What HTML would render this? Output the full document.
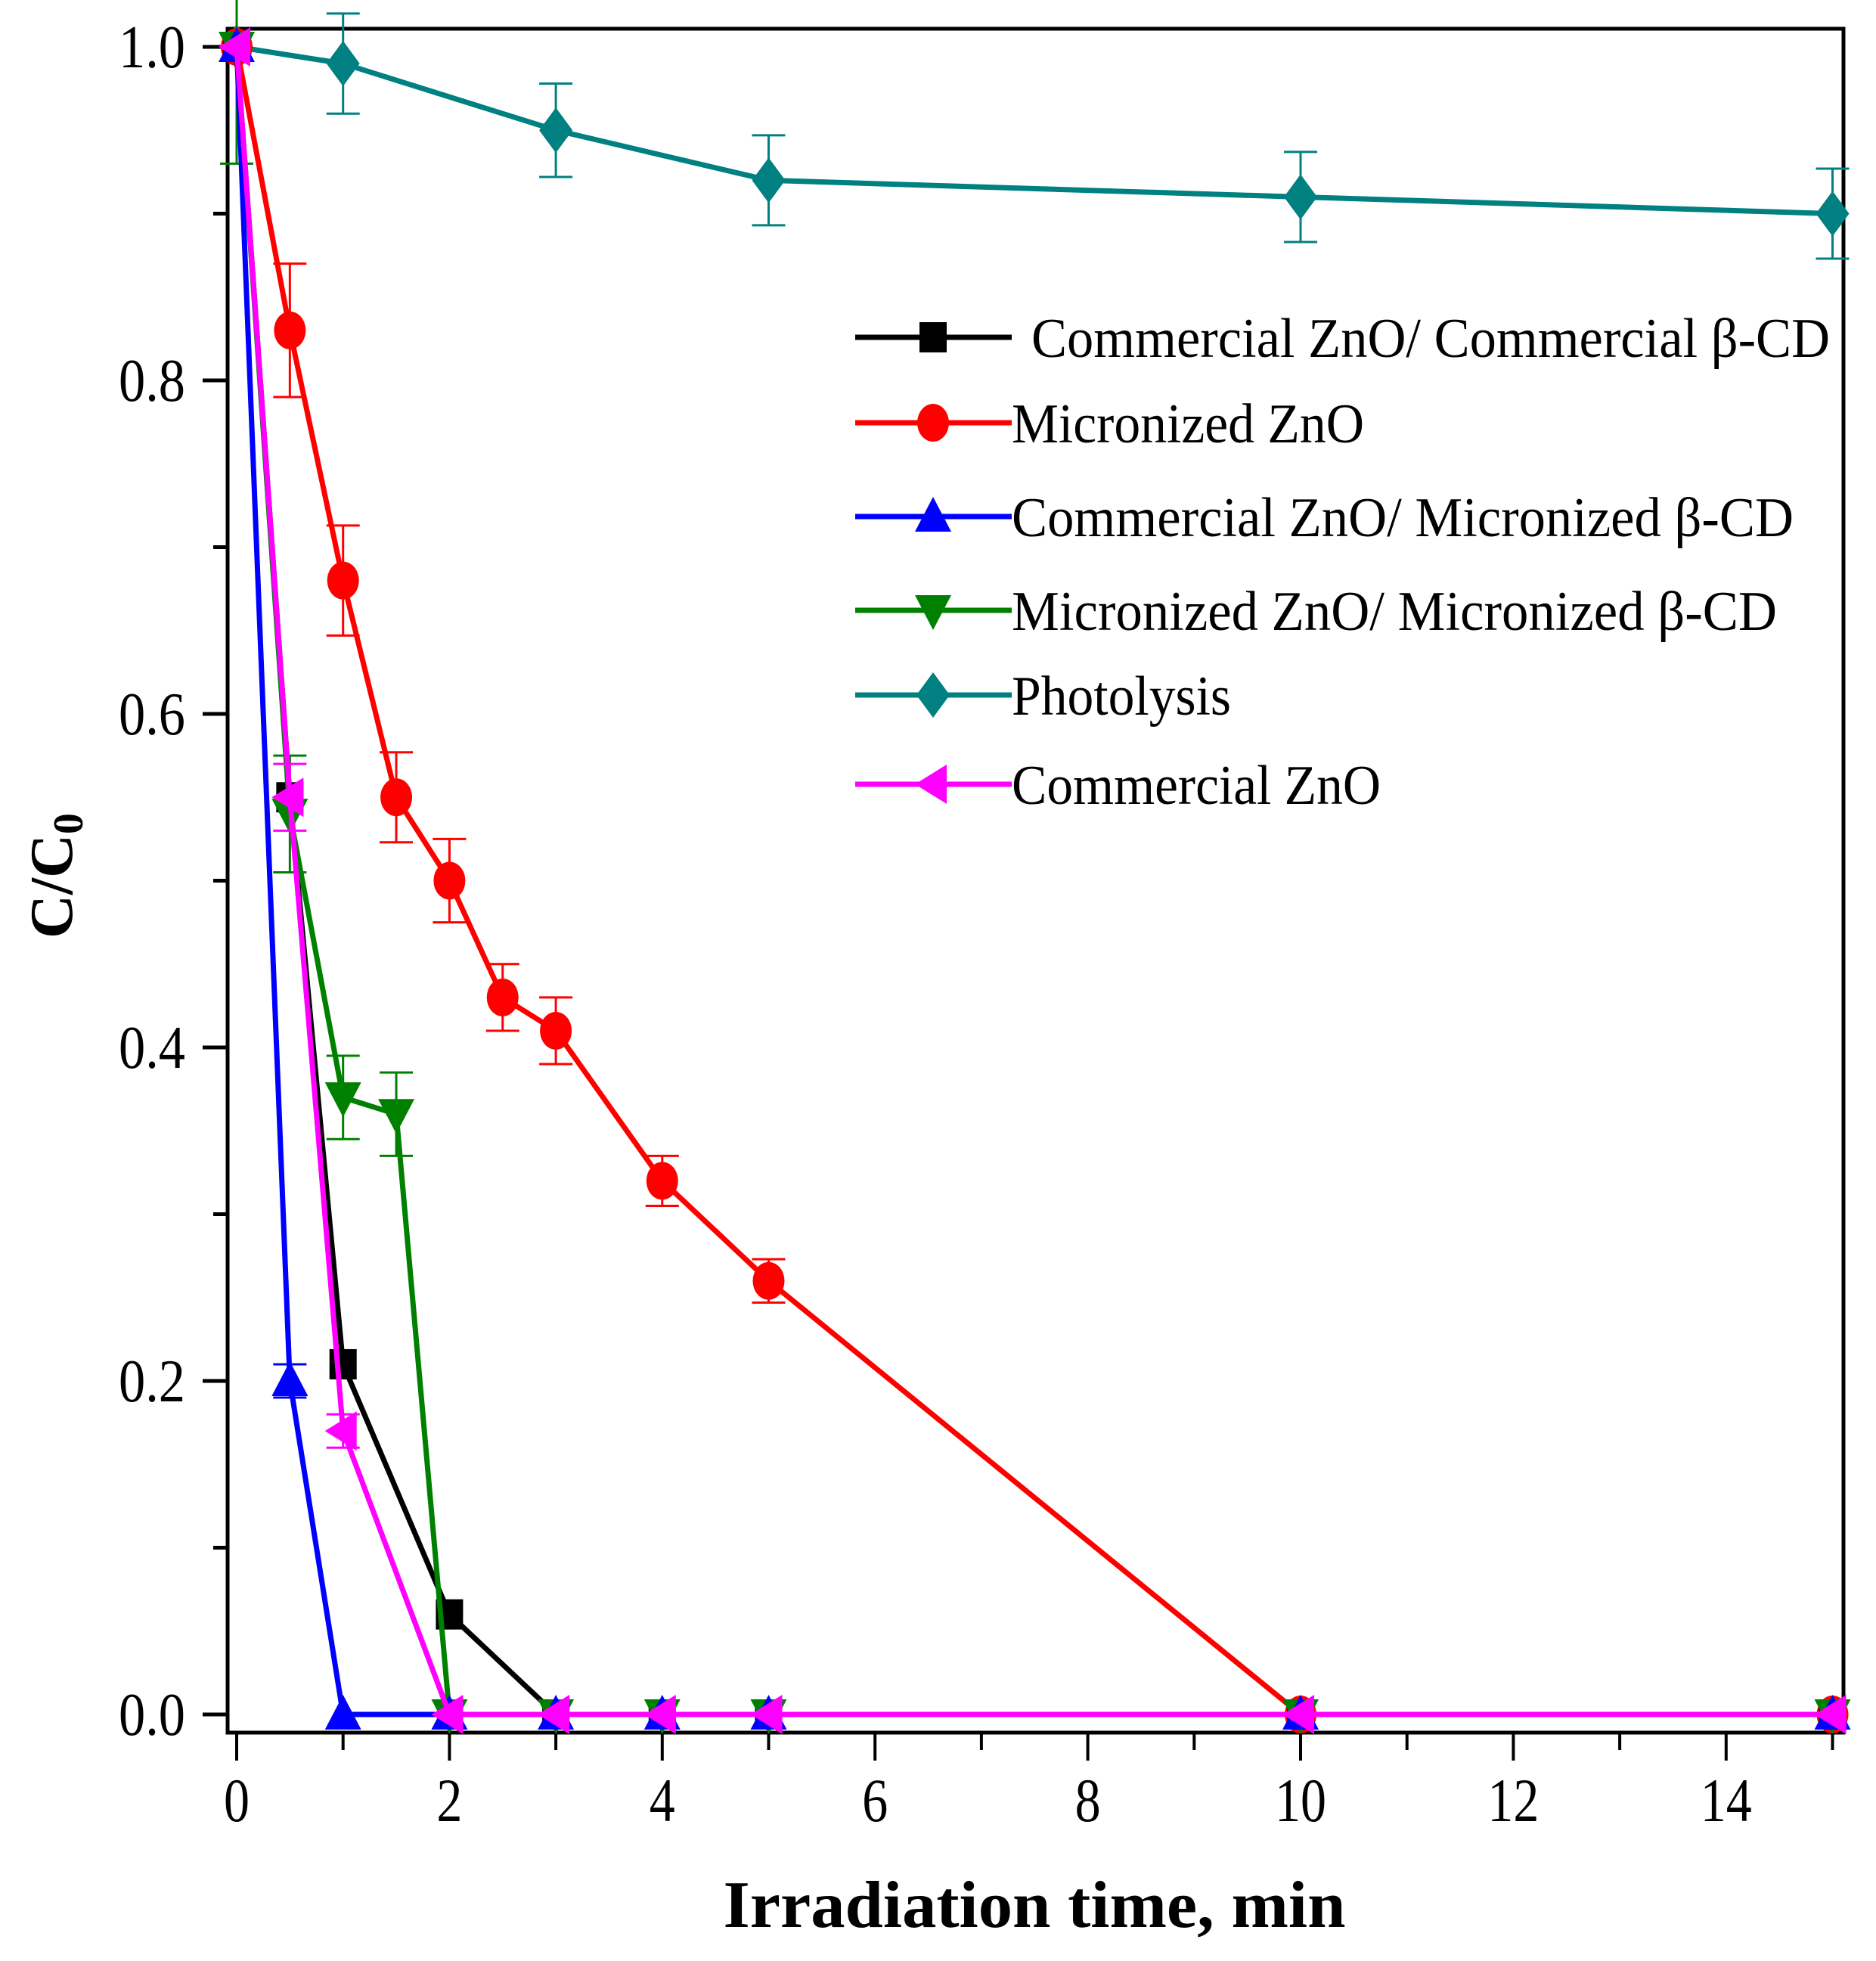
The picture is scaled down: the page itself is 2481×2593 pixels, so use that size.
<!DOCTYPE html>
<html><head><meta charset="utf-8"><style>
html,body{margin:0;padding:0;background:#fff}
svg{display:block}
text{font-family:"Liberation Serif",serif}
</style></head><body>
<svg id="chart" width="2481" height="2593" viewBox="0 0 2481 2593" xmlns="http://www.w3.org/2000/svg">
</svg>
<script>
const xTicks=[0,2,4,6,8,10,12,14];
const yTicks=[0.0,0.2,0.4,0.6,0.8,1.0];
const yTickLabels=["0.0","0.2","0.4","0.6","0.8","1.0"];
const names=["Commercial ZnO/ Commercial β-CD","Micronized ZnO","Commercial ZnO/ Micronized β-CD","Micronized ZnO/ Micronized β-CD","Photolysis","Commercial ZnO"];
const colors=["#000000","#ff0000","#0000ff","#008000","#008080","#ff00ff"];
const markers=["square","circle","up","down","diamond","left"];
const xBlack=[0,0.5,1,2,3,4,5,10,15];
const yBlack=[1,0.55,0.21,0.06,0,0,0,0,0];
const xRed=[0,0.5,1,1.5,2,2.5,3,4,5,10,15];
const yRed=[1,0.83,0.68,0.55,0.5,0.43,0.41,0.32,0.26,0,0];
const eRed=[0,0.04,0.033,0.027,0.025,0.02,0.02,0.015,0.013,0,0];
const xBlue=[0,0.5,1,2,3,4,5,10,15];
const yBlue=[1,0.2,0,0,0,0,0,0,0];
const eBlue=[0,0.01,0,0,0,0,0,0,0];
const xGreen=[0,0.5,1,1.5,2,3,4,5,10,15];
const yGreen=[1,0.54,0.37,0.36,0,0,0,0,0,0];
const eGreen=[0.07,0.035,0.025,0.025,0,0,0,0,0,0];
const xTeal=[0,1,3,5,10,15];
const yTeal=[1,0.99,0.95,0.92,0.91,0.9];
const eTeal=[0,0.03,0.028,0.027,0.027,0.027];
const xMag=[0,0.5,1,2,3,4,5,10,15];
const yMag=[1,0.55,0.17,0,0,0,0,0,0];
const eMag=[0,0.02,0.01,0,0,0,0,0,0];

const NS="http://www.w3.org/2000/svg";
const svg=document.getElementById('chart');
const X=v=>313+v*140.7;
const Y=v=>2267-v*2205;
function mk(tag,attrs,parent){const e=document.createElementNS(NS,tag);for(const k in attrs)e.setAttribute(k,attrs[k]);(parent||svg).appendChild(e);return e;}

const frame=mk('rect',{x:301,y:38,width:2137,height:2253,fill:'none',stroke:'#000','stroke-width':5});



for(let v=0;v<=1.001;v+=0.1){
  const major=Math.round(v*10)%2===0;
  const t=mk('line',{x1:major?268:282,x2:301,y1:Y(v),y2:Y(v),stroke:'#000','stroke-width':5});
  
  
}
yTicks.forEach((v,i)=>{
  const t=mk('text',{x:245,y:Y(v)+27,'text-anchor':'end','font-size':80,textLength:88,lengthAdjust:'spacingAndGlyphs'});
  t.textContent=yTickLabels[i];
  
  
});
for(let v=0;v<=15;v++){
  const major=v%2===0;
  const t=mk('line',{x1:X(v),x2:X(v),y1:2291,y2:major?2328:2314,stroke:'#000','stroke-width':4});
  
  
}
xTicks.forEach(v=>{
  const s=String(v);
  const t=mk('text',{x:X(v),y:2408,'text-anchor':'middle','font-size':82,textLength:s.length*34,lengthAdjust:'spacingAndGlyphs'});
  t.textContent=s;
  
  
});
const xt=mk('text',{x:1368,y:2548,'text-anchor':'middle','font-size':88,'font-weight':'bold',textLength:823,lengthAdjust:'spacingAndGlyphs'});
xt.textContent='Irradiation time, min';


const yt=mk('text',{x:0,y:0,'text-anchor':'middle','font-size':80,'font-weight':'bold',transform:'translate(95,1158) rotate(-90)'});
yt.innerHTML='C/C<tspan font-size="56" dy="14">0</tspan>';



function marker(type,cx,cy,color,parent){
  let e;
  if(type==='square')e=mk('rect',{x:cx-18,y:cy-20,width:36,height:40,fill:color},parent);
  else if(type==='circle')e=mk('ellipse',{cx:cx,cy:cy,rx:21,ry:25,fill:color},parent);
  else if(type==='up')e=mk('polygon',{points:`${cx},${cy-26} ${cx+24},${cy+20} ${cx-24},${cy+20}`,fill:color},parent);
  else if(type==='down')e=mk('polygon',{points:`${cx},${cy+26} ${cx+24},${cy-20} ${cx-24},${cy-20}`,fill:color},parent);
  else if(type==='diamond')e=mk('polygon',{points:`${cx},${cy-30} ${cx+22},${cy} ${cx},${cy+30} ${cx-22},${cy}`,fill:color},parent);
  else e=mk('polygon',{points:`${cx-24},${cy} ${cx+18},${cy-26} ${cx+18},${cy+26}`,fill:color},parent);
  return e;
}
const series=[[xBlack,yBlack,null],[xRed,yRed,eRed],[xBlue,yBlue,eBlue],[xGreen,yGreen,eGreen],[xTeal,yTeal,eTeal],[xMag,yMag,eMag]];
const order=[4,1,0,3,2,5];
order.forEach(i=>{
  const [xs,ys,es]=series[i];const c=colors[i];
  const g=mk('g',{});
  
  
  if(es){xs.forEach((x,j)=>{if(es[j]>0){
    const cx=X(x),t=Y(ys[j]+es[j]),b=Y(ys[j]-es[j]);
    const eb=mk('path',{d:`M${cx},${t}V${b}M${cx-22},${t}H${cx+22}M${cx-22},${b}H${cx+22}`,stroke:c,'stroke-width':3,fill:'none'},g);
    
    
  }});}
  const pl=mk('polyline',{points:xs.map((x,j)=>X(x)+','+Y(ys[j])).join(' '),fill:'none',stroke:c,'stroke-width':7},g);
  
  
  xs.forEach((x,j)=>{const m=marker(markers[i],X(x),Y(ys[j]),c,g);
    
    });
});
const legY=[446,559,683,807,919,1037];
const legEnd=[2420,1804,2372,2350,1628,1826];
const legStart=[1364,1338,1338,1338,1338,1338];
names.forEach((n,i)=>{
  const g=mk('g',{});
  
  
  mk('line',{x1:1131,x2:1338,y1:legY[i],y2:legY[i],stroke:colors[i],'stroke-width':7},g);
  marker(markers[i],1234,legY[i],colors[i],g);
  const t=mk('text',{x:legStart[i],y:legY[i]+26,'font-size':74,textLength:legEnd[i]-legStart[i],lengthAdjust:'spacingAndGlyphs'},g);
  t.textContent=n;
});
</script>
</body></html>
